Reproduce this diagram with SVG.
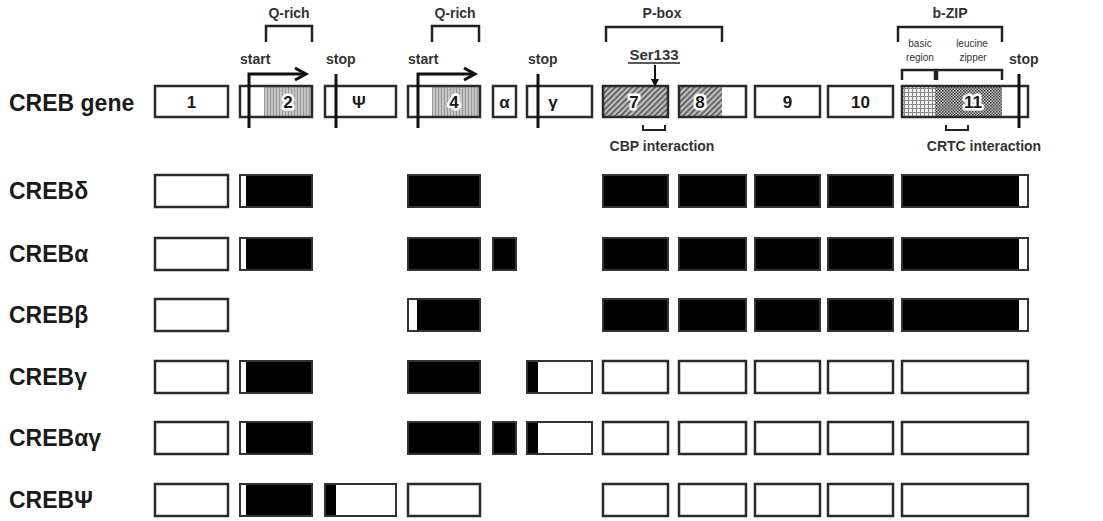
<svg xmlns="http://www.w3.org/2000/svg" width="1103" height="521" viewBox="0 0 1103 521">
<defs>
<pattern id="qrich" width="3" height="3" patternUnits="userSpaceOnUse"><rect width="3" height="3" fill="#c4c4c4"/><rect width="1" height="3" fill="#9a9a9a"/></pattern>
<pattern id="diag" width="4" height="4" patternUnits="userSpaceOnUse" patternTransform="rotate(45)"><rect width="4" height="4" fill="#bdbdbd"/><rect width="1.6" height="4" fill="#555"/></pattern>
<pattern id="grid" width="4" height="4" patternUnits="userSpaceOnUse"><rect width="4" height="4" fill="#f2f2f2"/><rect width="1" height="4" fill="#888"/><rect width="4" height="1" fill="#888"/></pattern>
<pattern id="dots" width="3" height="3" patternUnits="userSpaceOnUse"><rect width="3" height="3" fill="#b8b8b8"/><rect width="1.5" height="1.5" fill="#444"/><rect x="1.5" y="1.5" width="1.5" height="1.5" fill="#555"/></pattern>
<marker id="ahead" markerWidth="8" markerHeight="8" refX="7" refY="4" orient="auto" markerUnits="userSpaceOnUse"><path d="M0,0 L8,4 L0,8 Z" fill="#111"/></marker>
</defs>
<style>
text{font-family:"Liberation Sans",Arial,sans-serif;fill:#1a1a1a}
.lbl{font-size:23px;font-weight:bold}
.num{font-size:17px;font-weight:bold;text-anchor:middle;paint-order:stroke;stroke:#fff;stroke-width:5px;stroke-linejoin:round}
.sm{font-size:14px;font-weight:bold;fill:#333}
.dom{font-size:14px;font-weight:bold;text-anchor:middle;fill:#333}
.tiny{font-size:10px;text-anchor:middle;fill:#333}
.wb{fill:#fff;stroke:#2a2a2a;stroke-width:2.5}
.bb{fill:#000;stroke:#333;stroke-width:2}
.blk{fill:#000}
.ol{fill:none;stroke:#2a2a2a;stroke-width:2.5}
.ob{fill:none;stroke:#333;stroke-width:2}
.br{fill:none;stroke:#222;stroke-width:2.5}
.ln{stroke:#111;stroke-width:3;fill:none}
</style>

<g id="labels">
<text class="lbl" x="9" y="111">CREB gene</text>
<text class="lbl" x="9" y="199">CREBδ</text>
<text class="lbl" x="9" y="262">CREBα</text>
<text class="lbl" x="9" y="323">CREBβ</text>
<text class="lbl" x="9" y="385">CREBγ</text>
<text class="lbl" x="9" y="446">CREBαγ</text>
<text class="lbl" x="9" y="508">CREBΨ</text>
</g>

<g id="gene-row">
<g id="g-ex1"><rect class="wb" x="155" y="86" width="73" height="31"/><text class="num" x="191.5" y="108">1</text></g>
<g id="g-ex2"><rect x="264" y="86" width="48" height="31" fill="url(#qrich)"/><rect class="ol" x="240" y="86" width="72" height="31"/><text class="num" x="288" y="108">2</text></g>
<g id="g-exPsi"><rect class="wb" x="325" y="86" width="71" height="31"/><text class="num" x="359" y="108">Ψ</text></g>
<g id="g-ex4"><rect x="432" y="86" width="48" height="31" fill="url(#qrich)"/><rect class="ol" x="408" y="86" width="72" height="31"/><text class="num" x="454" y="108">4</text></g>
<g id="g-exAlpha"><rect class="wb" x="493" y="86" width="23" height="31"/><text class="num" x="504.5" y="108">α</text></g>
<g id="g-exGamma"><rect class="wb" x="527" y="86" width="65" height="31"/><text class="num" x="553" y="108">γ</text></g>
<g id="g-ex7"><rect x="603" y="86" width="65" height="31" fill="url(#diag)"/><rect class="ol" x="603" y="86" width="65" height="31"/><text class="num" x="634" y="108">7</text></g>
<g id="g-ex8"><rect x="679" y="86" width="43" height="31" fill="url(#diag)"/><rect class="ol" x="679" y="86" width="67" height="31"/><text class="num" x="700" y="108">8</text></g>
<g id="g-ex9"><rect class="wb" x="755" y="86" width="65" height="31"/><text class="num" x="787.5" y="108">9</text></g>
<g id="g-ex10"><rect class="wb" x="828" y="86" width="65" height="31"/><text class="num" x="860.5" y="108">10</text></g>
<g id="g-ex11"><rect x="902" y="86" width="33" height="31" fill="url(#grid)"/><rect x="935" y="86" width="67" height="31" fill="url(#dots)"/><rect class="ol" x="902" y="86" width="126" height="31"/><text class="num" x="973" y="108">11</text></g>
</g>

<g id="annotations">
<path class="br" d="M266,42 V26 H312 V42"/><text class="dom" x="289" y="18">Q-rich</text>
<path class="br" d="M432,42 V26 H479 V42"/><text class="dom" x="455" y="18">Q-rich</text>
<path class="br" d="M606,42 V27 H722 V42"/><text class="dom" x="662" y="18">P-box</text>
<path class="br" d="M898,42 V27 H1002 V42"/><text class="dom" x="950" y="18">b-ZIP</text>
<path class="br" d="M902,80 V70 H935 V80"/>
<path class="br" d="M937,80 V70 H1002 V80"/>
<text class="tiny" x="920" y="47">basic</text><text class="tiny" x="920" y="61">region</text>
<text class="tiny" x="972" y="47">leucine</text><text class="tiny" x="973" y="61">zipper</text>
<text class="sm" x="240" y="64">start</text>
<text class="sm" x="326" y="64">stop</text>
<text class="sm" x="408" y="64">start</text>
<text class="sm" x="528" y="64">stop</text>
<text class="sm" x="1009" y="64">stop</text>
<text class="dom" x="654" y="60" style="font-size:15px">Ser133</text>
<line x1="628" y1="63" x2="680" y2="63" stroke="#222" stroke-width="1.5"/>
<path class="br" d="M643,125 V130 H665 V125" style="stroke-width:2"/>
<text class="dom" x="662" y="151">CBP interaction</text>
<path class="br" d="M946,125 V130 H968 V125" style="stroke-width:2"/>
<text class="dom" x="984" y="151">CRTC interaction</text>
</g>

<g id="connectors">
<path class="ln" d="M249,128 V74 H305"/><path class="ln" d="M295,68 L306,74 L295,80" stroke-width="2.5"/>
<path class="ln" d="M418,128 V74 H474"/><path class="ln" d="M464,68 L475,74 L464,80" stroke-width="2.5"/>
<line class="ln" x1="336" y1="74" x2="336" y2="128"/>
<line class="ln" x1="538" y1="74" x2="538" y2="128"/>
<line class="ln" x1="1019" y1="74" x2="1019" y2="128"/>
<line x1="655" y1="65" x2="655" y2="86" stroke="#111" stroke-width="2" marker-end="url(#ahead)"/>
</g>

<g id="row-delta">
<rect class="wb" x="155" y="175" width="73" height="32"/>
<rect class="blk" x="246" y="175" width="66" height="32"/><rect class="ob" x="240" y="175" width="72" height="32"/>
<rect class="bb" x="408" y="175" width="72" height="32"/>
<rect class="bb" x="603" y="175" width="65" height="32"/>
<rect class="bb" x="679" y="175" width="67" height="32"/>
<rect class="bb" x="755" y="175" width="65" height="32"/>
<rect class="bb" x="828" y="175" width="65" height="32"/>
<rect class="blk" x="902" y="175" width="117" height="32"/><rect class="ob" x="902" y="175" width="126" height="32"/>
</g>
<g id="row-alpha">
<rect class="wb" x="155" y="238" width="73" height="32"/>
<rect class="blk" x="246" y="238" width="66" height="32"/><rect class="ob" x="240" y="238" width="72" height="32"/>
<rect class="bb" x="408" y="238" width="72" height="32"/>
<rect class="bb" x="493" y="238" width="23" height="32"/>
<rect class="bb" x="603" y="238" width="65" height="32"/>
<rect class="bb" x="679" y="238" width="67" height="32"/>
<rect class="bb" x="755" y="238" width="65" height="32"/>
<rect class="bb" x="828" y="238" width="65" height="32"/>
<rect class="blk" x="902" y="238" width="117" height="32"/><rect class="ob" x="902" y="238" width="126" height="32"/>
</g>
<g id="row-beta">
<rect class="wb" x="155" y="299" width="73" height="32"/>
<rect class="blk" x="417" y="299" width="63" height="32"/><rect class="ob" x="408" y="299" width="72" height="32"/>
<rect class="bb" x="603" y="299" width="65" height="32"/>
<rect class="bb" x="679" y="299" width="67" height="32"/>
<rect class="bb" x="755" y="299" width="65" height="32"/>
<rect class="bb" x="828" y="299" width="65" height="32"/>
<rect class="blk" x="902" y="299" width="117" height="32"/><rect class="ob" x="902" y="299" width="126" height="32"/>
</g>
<g id="row-gamma">
<rect class="wb" x="155" y="361" width="73" height="32"/>
<rect class="blk" x="246" y="361" width="66" height="32"/><rect class="ob" x="240" y="361" width="72" height="32"/>
<rect class="bb" x="408" y="361" width="72" height="32"/>
<rect class="blk" x="527" y="361" width="11" height="32"/><rect class="ob" x="527" y="361" width="65" height="32"/>
<rect class="wb" x="603" y="361" width="65" height="32"/>
<rect class="wb" x="679" y="361" width="67" height="32"/>
<rect class="wb" x="755" y="361" width="65" height="32"/>
<rect class="wb" x="828" y="361" width="65" height="32"/>
<rect class="wb" x="902" y="361" width="126" height="32"/>
</g>
<g id="row-alphagamma">
<rect class="wb" x="155" y="422" width="73" height="32"/>
<rect class="blk" x="246" y="422" width="66" height="32"/><rect class="ob" x="240" y="422" width="72" height="32"/>
<rect class="bb" x="408" y="422" width="72" height="32"/>
<rect class="bb" x="493" y="422" width="23" height="32"/>
<rect class="blk" x="527" y="422" width="11" height="32"/><rect class="ob" x="527" y="422" width="65" height="32"/>
<rect class="wb" x="603" y="422" width="65" height="32"/>
<rect class="wb" x="679" y="422" width="67" height="32"/>
<rect class="wb" x="755" y="422" width="65" height="32"/>
<rect class="wb" x="828" y="422" width="65" height="32"/>
<rect class="wb" x="902" y="422" width="126" height="32"/>
</g>
<g id="row-psi">
<rect class="wb" x="155" y="484" width="73" height="32"/>
<rect class="blk" x="246" y="484" width="66" height="32"/><rect class="ob" x="240" y="484" width="72" height="32"/>
<rect class="blk" x="325" y="484" width="11" height="32"/><rect class="ob" x="325" y="484" width="71" height="32"/>
<rect class="wb" x="408" y="484" width="72" height="32"/>
<rect class="wb" x="603" y="484" width="65" height="32"/>
<rect class="wb" x="679" y="484" width="67" height="32"/>
<rect class="wb" x="755" y="484" width="65" height="32"/>
<rect class="wb" x="828" y="484" width="65" height="32"/>
<rect class="wb" x="902" y="484" width="126" height="32"/>
</g>
</svg>
